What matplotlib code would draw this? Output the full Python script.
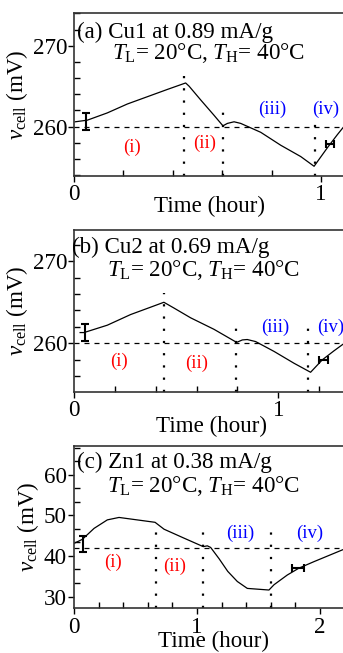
import matplotlib
matplotlib.use("Agg")
import matplotlib.pyplot as plt
from matplotlib.ticker import MultipleLocator, AutoMinorLocator

plt.rcParams['font.family'] = ['Liberation Serif', 'DejaVu Serif']
plt.rcParams['mathtext.fontset'] = 'custom'
plt.rcParams['mathtext.rm'] = 'Liberation Serif'
plt.rcParams['mathtext.it'] = 'Liberation Serif:italic'

# panel (a) Cu1
a_t = [0.005, 0.054, 0.135, 0.216, 0.297, 0.378, 0.452, 0.466, 0.513, 0.567, 0.603,
       0.621, 0.648, 0.675, 0.756, 0.837, 0.918, 0.972, 1.026, 1.066, 1.095]
a_v = [260.6, 260.8, 261.7, 262.8, 263.7, 264.6, 265.4, 265.0, 263.3, 261.4, 260.1,
       260.4, 260.6, 260.4, 259.3, 257.7, 256.3, 255.1, 257.4, 259.0, 260.1]
a_err_v = [0.05, 260.65, 1.05]      # t, v, yerr
a_err_h = [1.036, 257.85, 0.017]    # t, v, xerr
a_div = [0.445, 0.605, 0.974]
a_div_top = [267.0, 261.9, 261.2]
a_lab_t = [0.236, 0.53, 0.803, 1.02]
a_lab_v = [257.4, 257.9, 262.1, 262.1]

# panel (b) Cu2
b_t = [0.03, 0.049, 0.163, 0.277, 0.375, 0.44, 0.489, 0.571, 0.685, 0.796, 0.824,
       0.848, 0.889, 0.979, 1.077, 1.158, 1.215, 1.272, 1.34]
b_v = [261.3, 261.3, 262.2, 263.5, 264.4, 265.0, 264.3, 263.1, 261.7, 260.1, 260.4,
       260.45, 260.2, 259.0, 257.55, 256.45, 257.96, 259.06, 260.3]
b_err_v = [0.052, 261.33, 1.0]
b_err_h = [1.223, 257.96, 0.022]
b_div = [0.44, 0.791, 1.147]
b_div_top = [266.1, 262.0, 262.0]
b_lab_t = [0.22, 0.6, 0.984, 1.256]
b_lab_v = [257.8, 257.6, 261.9, 261.9]

# panel (c) Zn1
c_t = [0.0, 0.068, 0.163, 0.271, 0.366, 0.488, 0.659, 0.732, 0.894, 1.051, 1.084,
       1.111, 1.18, 1.25, 1.328, 1.409, 1.585, 1.626, 1.734, 1.829, 1.951, 2.19, 2.27]
c_v = [43.1, 44.1, 46.8, 48.9, 49.5, 49.0, 48.3, 46.6, 44.4, 42.3, 42.5,
       42.1, 39.3, 36.2, 33.7, 32.0, 31.6, 32.9, 35.3, 37.0, 38.6, 41.6, 42.4]
c_err_v = [0.073, 43.0, 2.0]
c_err_h = [1.821, 37.0, 0.05]
c_div = [0.664, 1.051, 1.604]
c_div_top = [46.4, 45.8, 45.8]
c_lab_t = [0.32, 0.821, 1.35, 1.919]
c_lab_v = [38.4, 37.5, 45.6, 45.6]

labels = ['(i)', '(ii)', '(iii)', '(iv)']
lab_colors = ['#ff0000', '#ff0000', '#0000ff', '#0000ff']
line2 = r'$T_{\rm L}$= 20°C, $T_{\rm H}$= 40°C'

fig = plt.figure(figsize=(3.43, 6.53), dpi=100)


def panel(pos, xmax, ylim, base, t, v, ev, eh, div, divtop, lt, lv,
          title, tpos, l2pos, yminor, xpad):
    ax = fig.add_axes(pos)
    ax.plot(t, v, color='k', lw=0.9)
    ax.axhline(base, color='k', lw=0.9, dashes=(4, 4))
    for d, top in zip(div, divtop):
        ax.plot([d, d], [ylim[0], top], color='k', lw=1.6, ls=(0, (1, 4.5)))
    ax.errorbar([ev[0]], [ev[1]], yerr=[ev[2]], color='k', lw=1.5, capsize=3, capthick=1.5)
    ax.errorbar([eh[0]], [eh[1]], xerr=[eh[2]], color='k', lw=1.5, capsize=3, capthick=1.5)
    for s, c, x, y in zip(labels, lab_colors, lt, lv):
        ax.text(x, y, s, color=c, fontsize=13.5, ha='center', va='center')
    ax.text(tpos[0], tpos[1], title, fontsize=16.6, ha='left', va='center')
    ax.text(l2pos[0], l2pos[1], line2, fontsize=16.6, ha='left', va='center')
    ax.set_xlim(0, xmax)
    ax.set_ylim(*ylim)
    ax.xaxis.set_major_locator(MultipleLocator(1))
    ax.xaxis.set_minor_locator(AutoMinorLocator(5))
    ax.yaxis.set_major_locator(MultipleLocator(10))
    ax.yaxis.set_minor_locator(AutoMinorLocator(yminor))
    ax.tick_params(which='major', direction='out', length=4, width=1, labelsize=16.6, pad=1)
    ax.tick_params(which='minor', direction='in', length=4.5, width=1)
    ax.tick_params(axis='x', which='major', pad=2)
    for sp in ax.spines.values():
        sp.set_linewidth(1.2)
        sp.set_color('#333333')
    ax.set_xlabel('Time (hour)', fontsize=16.6, labelpad=xpad)
    ax.set_ylabel(r'$v_{\rm cell}$ (mV)', fontsize=16.6, labelpad=2)
    return ax


panel([74 / 343, 0.7305, 270 / 343, 0.2496], 270 / 247, (253.9, 274.05), 260,
      a_t, a_v, a_err_v, a_err_h, a_div, a_div_top, a_lab_t, a_lab_v,
      '(a) Cu1 at 0.89 mA/g', (0.012, 271.7), (0.154, 269.1), 5, -6.5)
panel([74 / 343, 0.4002, 276 / 343, 0.2481], 276 / 204.3, (254.08, 273.87), 260,
      b_t, b_v, b_err_v, b_err_h, b_div, b_div_top, b_lab_t, b_lab_v,
      '(b) Cu2 at 0.69 mA/g', (-0.01, 271.7), (0.16, 269.0), 5, -4)
panel([74 / 343, 0.0685, 280 / 343, 0.249], 280 / 123, (27.1, 67.2), 42,
      c_t, c_v, c_err_v, c_err_h, c_div, c_div_top, c_lab_t, c_lab_v,
      '(c) Zn1 at 0.38 mA/g', (0.024, 62.95), (0.268, 57.3), 3, -4.5)

fig.savefig('out.png', dpi=100)
